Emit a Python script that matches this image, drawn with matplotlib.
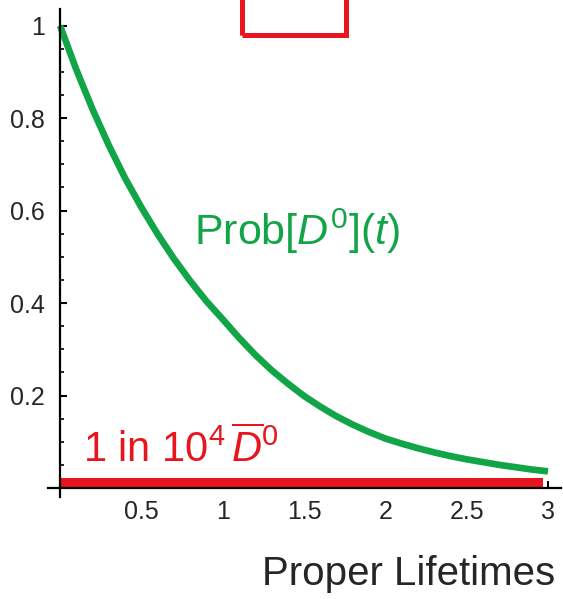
import matplotlib
matplotlib.use("Agg")
import matplotlib.pyplot as plt
import matplotlib.patches as patches

# values
t = [0.0, 0.1, 0.2, 0.3, 0.4, 0.5, 0.6, 0.7, 0.8, 0.9, 1.0,
     1.1, 1.2, 1.3, 1.4, 1.5, 1.6, 1.7, 1.8, 1.9, 2.0,
     2.1, 2.2, 2.3, 2.4, 2.5, 2.6, 2.7, 2.8, 2.9, 3.0]
prob_d0 = [1.000, 0.905, 0.819, 0.741, 0.670, 0.607, 0.549, 0.496, 0.448, 0.404, 0.365,
           0.325, 0.288, 0.255, 0.226, 0.199, 0.176, 0.155, 0.137, 0.121, 0.107,
           0.096, 0.086, 0.077, 0.069, 0.062, 0.056, 0.050, 0.045, 0.040, 0.036]
t_bar = [0.0, 2.97]
prob_d0bar = [0.011, 0.011]

xticks = [0.5, 1, 1.5, 2, 2.5, 3]
xticklabels = ["0.5", "1", "1.5", "2", "2.5", "3"]
yticks = [0.2, 0.4, 0.6, 0.8, 1.0]
yticklabels = ["0.2", "0.4", "0.6", "0.8", "1"]

GREEN = "#12a548"
RED = "#e8141e"
GREY = "#262626"

plt.rcParams['font.family'] = ['Liberation Sans', 'DejaVu Sans']
plt.rcParams['mathtext.fontset'] = 'custom'
plt.rcParams['mathtext.rm'] = 'Liberation Sans'
plt.rcParams['mathtext.it'] = 'Liberation Sans:italic'

fig = plt.figure(figsize=(5.63, 5.99), dpi=100)
ax = fig.add_axes([48/563, (599-497)/599, 513/563, (497-9)/599])

ax.plot(t, prob_d0, color=GREEN, lw=4.8, solid_capstyle="butt", zorder=3)
ax.plot(t_bar, prob_d0bar, color=RED, lw=7.2, solid_capstyle="butt", zorder=4)

ax.set_xlim(-0.074, 3.08)
ax.set_ylim(-0.0195, 1.036)

for s in ["top", "right"]:
    ax.spines[s].set_visible(False)
ax.spines["left"].set_position(("data", 0))
ax.spines["bottom"].set_position(("data", 0))
for s in ["left", "bottom"]:
    ax.spines[s].set_linewidth(1.6)
    ax.spines[s].set_color("black")
    ax.spines[s].set_zorder(5)

ax.set_xticks(xticks)
ax.set_xticklabels(xticklabels)
ax.set_yticks(yticks)
ax.set_yticklabels(yticklabels)
ax.set_yticks([i * 0.05 for i in range(1, 21)], minor=True)
ax.set_xticks([i * 0.1 for i in range(1, 31)], minor=True)
ax.tick_params(axis="both", which="major", direction="in", length=5, width=1.5,
               labelsize=18, labelcolor=GREY)
ax.tick_params(axis="both", which="minor", direction="in", length=3, width=1.2)
ax.tick_params(axis="y", pad=11)
ax.tick_params(axis="x", pad=9)

ax.text(1.457, 0.555, r"Prob[$D^0$]($t$)", color=GREEN, fontsize=31,
        ha="center", va="center")
ax.text(0.141, 0.056, r"1 in 10$^4$$\,\overline{D}^0$", color=RED, fontsize=30,
        ha="left", va="baseline")

fig.text(555/563, (599-585)/599, "Proper Lifetimes", color=GREY, fontsize=29,
         ha="right", va="baseline")

fig.add_artist(patches.Rectangle((242/563, (599-35)/599), 104/563, 0.1,
                                 transform=fig.transFigure, fill=False,
                                 edgecolor=RED, lw=3.6, clip_on=False))

fig.savefig("out.png", dpi=100)
